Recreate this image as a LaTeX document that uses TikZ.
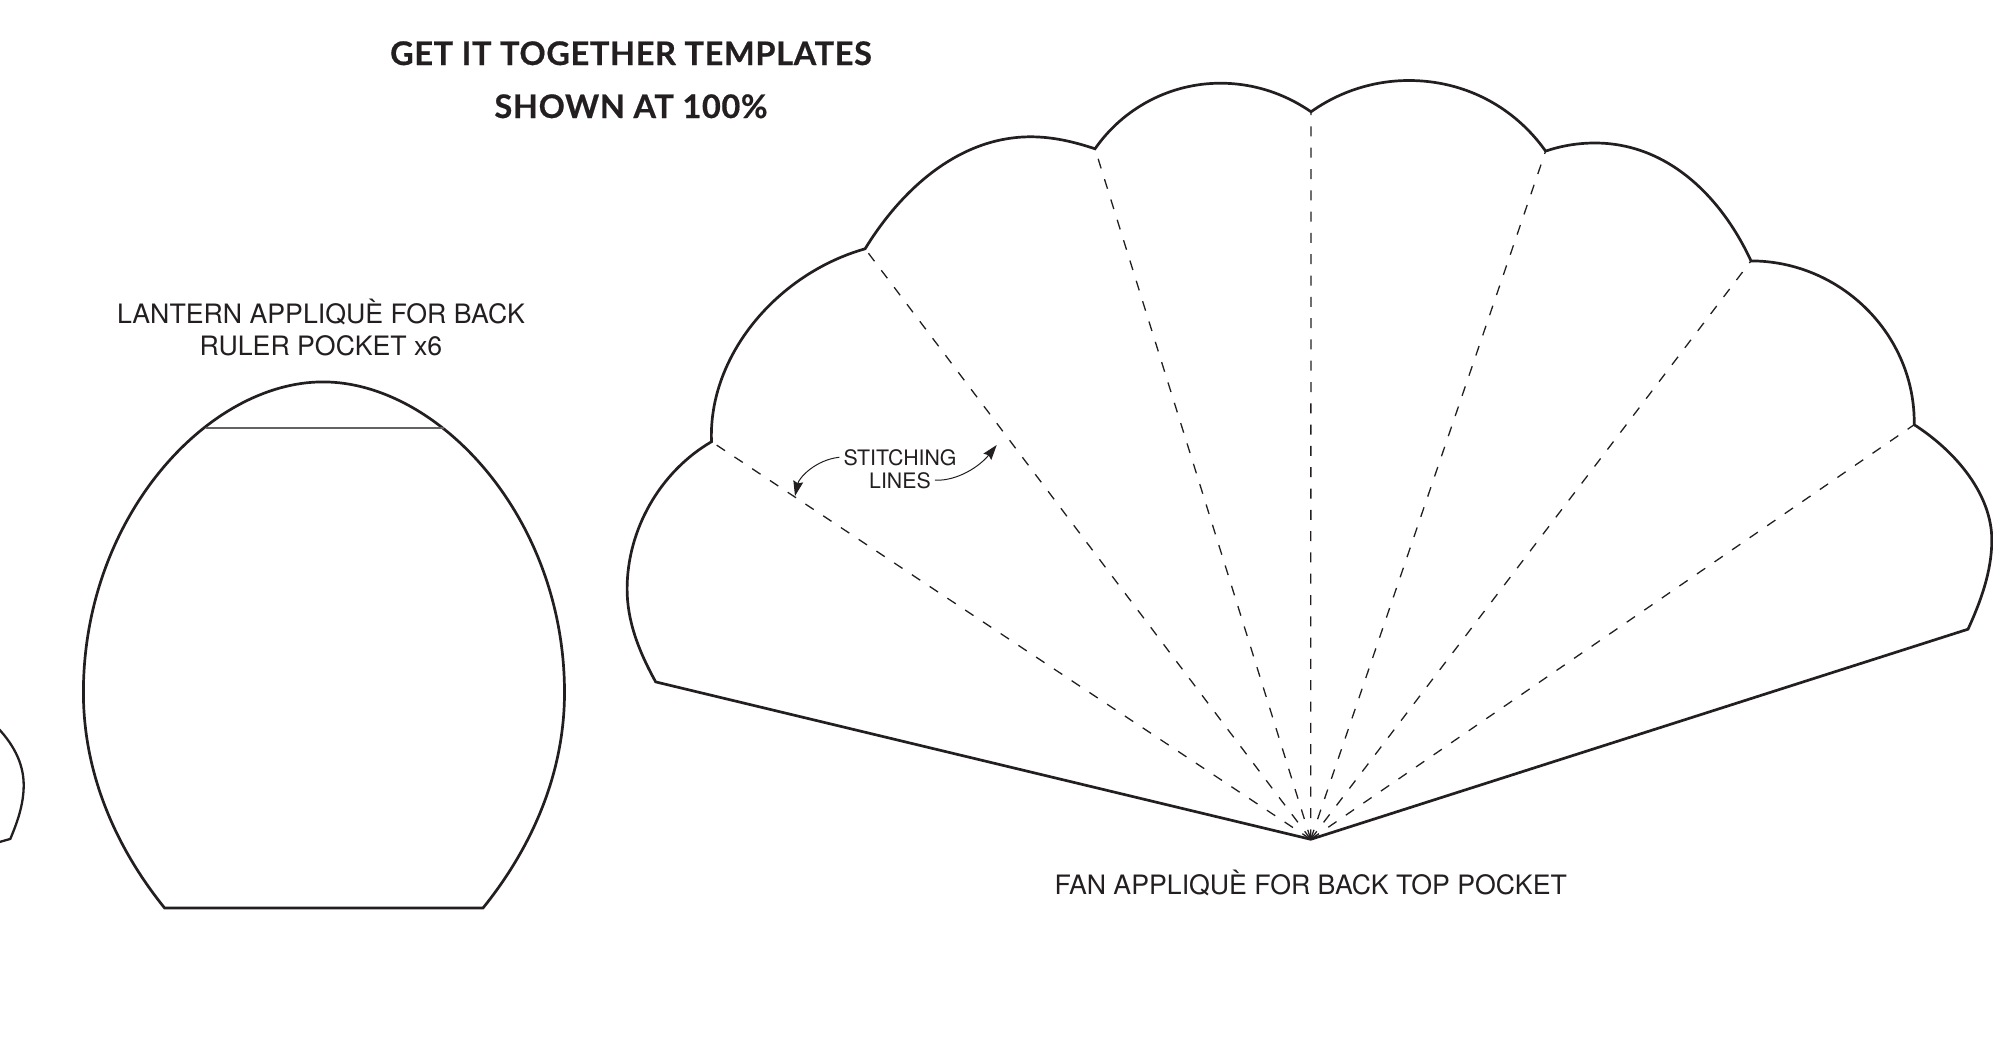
\documentclass[tikz,border=0pt]{standalone}
\usepackage{fontspec}
\setmainfont{TeX Gyre Heros}
\newfontfamily\titlefont[LetterSpace=2,BoldFeatures={FakeBold=0.5}]{Lato}
\usetikzlibrary{arrows.meta}
\definecolor{ink}{HTML}{231F20}
\tikzset{
  outline/.style={draw=ink,line width=2.7pt,line join=miter},
  stitchline/.style={draw=ink,line width=1.3pt,dash pattern=on 10pt off 11.3pt},
  foldline/.style={draw=ink!70,line width=1.4pt},
  titletext/.style={anchor=base,inner sep=0pt,text=ink,font=\titlefont\bfseries\fontsize{32.5}{32}\selectfont},
  labeltext/.style={anchor=base,inner sep=0pt,text=ink,font=\fontsize{26.7}{27}\selectfont},
  smalltext/.style={anchor=base,inner xsep=4pt,inner ysep=0pt,text=ink,font=\fontsize{21.3}{21}\selectfont},
  pointer/.style={draw=ink,line width=1pt,-{Stealth[length=15pt,width=10pt,inset=2pt]}}
}
\begin{document}
\begin{tikzpicture}[x=1pt,y=-1pt]
\clip (0,0) rectangle (1993,1063);
% fan points
\coordinate (apex) at (1310.7,839.3);
\coordinate (fl) at (655.7,681.9);
\coordinate (j1) at (711.5,441.7);
\coordinate (j2) at (865.1,248.8);
\coordinate (j3) at (1095,148.8);
\coordinate (j4) at (1311,111.8);
\coordinate (j5) at (1545.6,151.1);
\coordinate (j6) at (1751,260.9);
\coordinate (j7) at (1914.2,424.7);
\coordinate (fr) at (1968,629.2);
% stitching lines
\foreach \j in {j1,j2,j3,j4,j5,j6,j7} \draw[stitchline] (apex) -- (\j);
% fan outline
\draw[outline] (fl) .. controls (638,650) and (627.1,620) .. (627.1,589)
  .. controls (627.1,530) and (659.6,472) .. (j1)
  .. controls (708,355) and (778,273.4) .. (j2)
  .. controls (902,188.5) and (959.7,136.8) .. (1030.7,136.8)
  .. controls (1053,136.8) and (1074,141.8) .. (j3)
  .. controls (1123.5,107.8) and (1170.4,83.2) .. (1220.4,83.2)
  .. controls (1253,83.2) and (1284.3,93.3) .. (j4)
  .. controls (1339.5,91.5) and (1373.8,80.5) .. (1408.8,80.5)
  .. controls (1463.8,80.5) and (1513.6,106) .. (j5)
  .. controls (1561.7,145.7) and (1577.9,143) .. (1594.9,143)
  .. controls (1667,143) and (1721,196) .. (j6)
  .. controls (1841,261) and (1915.5,335) .. (j7)
  .. controls (1957.6,452.7) and (1991.8,495.6) .. (1991.8,540)
  .. controls (1991.8,572) and (1980,603) .. (fr)
  -- (apex) -- cycle;
% lantern
\coordinate (lbl) at (164.6,908);
\coordinate (lbr) at (483,908);
\coordinate (cl) at (205.5,428.1);
\coordinate (cr) at (443.8,428.1);
\draw[outline] (lbl) .. controls (114.6,846) and (83.4,772) .. (83.4,692.5)
  .. controls (83.4,517) and (208,381.9) .. (323,381.9)
  .. controls (438,381.9) and (564.5,517) .. (564.5,692.5)
  .. controls (564.5,772) and (533,846) .. (lbr) -- cycle;
\draw[foldline] (cl) -- (cr);
% partial shape at the left edge
\draw[outline,line width=2.3pt] (-5,725) .. controls (12,742) and (23.7,762) .. (23.7,785)
  .. controls (23.7,805) and (17,823) .. (10.3,838.9) -- (-3,842.7);
% texts
\node[titletext] (t1) at (631,65) {GET IT TOGETHER TEMPLATES};
\node[titletext] (t2) at (631,118) {SHOWN AT 100\%};
\node[labeltext] (l1) at (321,323) {LANTERN APPLIQUÈ FOR BACK};
\node[labeltext] (l2) at (321,355.8) {RULER POCKET x6};
\node[labeltext] (l3) at (1310.7,894.5) {FAN APPLIQUÈ FOR BACK TOP POCKET};
\node[smalltext] (s1) at (900,465) {STITCHING};
\node[smalltext] (s2) at (900,488) {LINES};
\coordinate (a1) at (795,496);
\coordinate (a2) at (996.7,445);
\draw[pointer] (s1.west) .. controls (815,460) and (799,478) .. (a1);
\draw[pointer] (s2.east) .. controls (958,481) and (980,466) .. (a2);
\end{tikzpicture}
\end{document}
